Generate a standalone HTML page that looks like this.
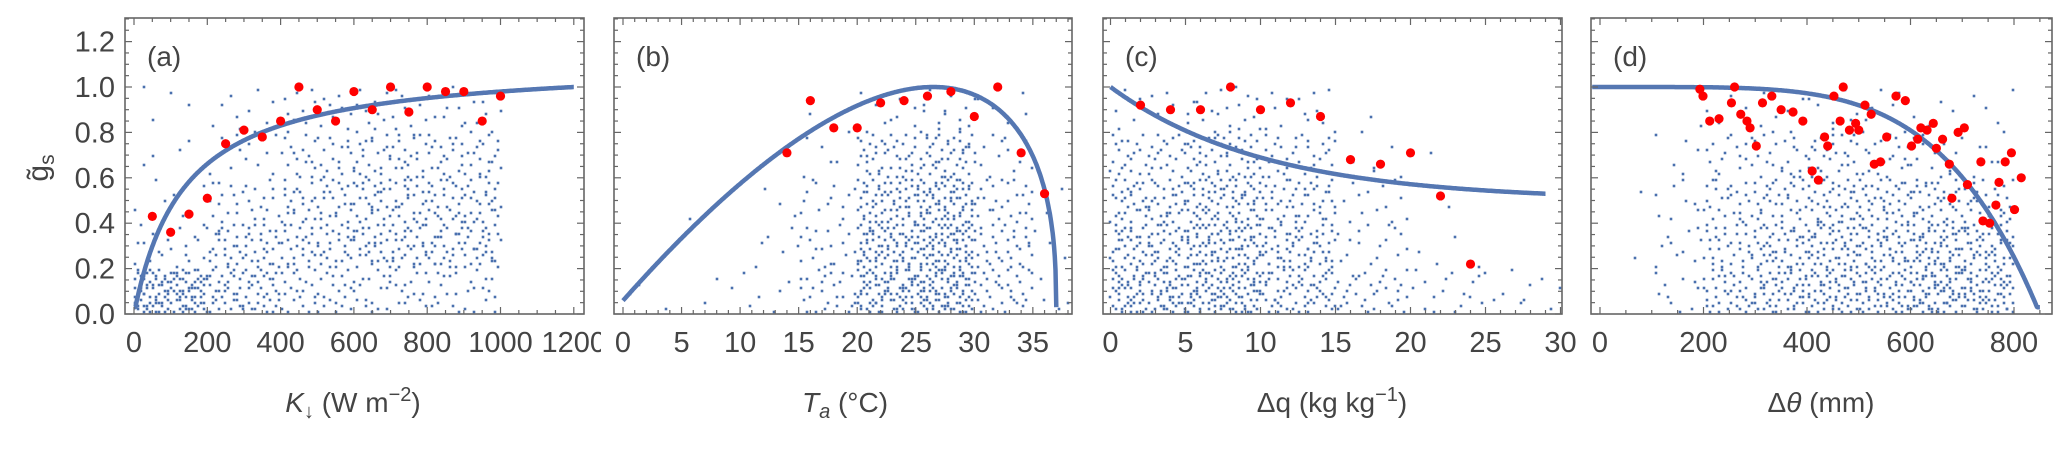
<!DOCTYPE html>
<html><head><meta charset="utf-8"><style>
html,body{margin:0;padding:0;background:#fff;}
svg{display:block;font-family:"Liberation Sans",sans-serif;}
</style></head><body>
<svg id="chart" width="2067" height="449" viewBox="0 0 2067 449" xmlns="http://www.w3.org/2000/svg">
<defs><clipPath id="clipA"><rect x="0" y="0" width="601" height="449"/></clipPath></defs>
<text transform="translate(48,168) rotate(-90)" text-anchor="middle" font-size="30" fill="#444">g&#771;<tspan font-size="21" dy="6">s</tspan></text>
</svg>
<script>
// ---------- data ----------
const yTicks = [0.0,0.2,0.4,0.6,0.8,1.0,1.2];
const yTickLabels = ["0.0","0.2","0.4","0.6","0.8","1.0","1.2"];

const aTicks = [0,200,400,600,800,1000,1200];
const aRedX = [50,100,150,200,250,300,350,400,450,500,550,600,650,700,750,800,850,900,950,1000];
const aRedY = [0.43,0.36,0.44,0.51,0.75,0.81,0.78,0.85,1.0,0.9,0.85,0.98,0.9,1.0,0.89,1.0,0.98,0.98,0.85,0.96];
const aDensity = [[120,65,40,32,26,0],[20,52,52,58,58,0],[6,26,45,52,52,0],[4,13,32,39,39,0],[4,10,16,20,16,0]];

const bTicks = [0,5,10,15,20,25,30,35];
const bRedX = [14,16,18,20,22,24,26,28,30,32,34,36];
const bRedY = [0.71,0.94,0.82,0.82,0.93,0.94,0.96,0.98,0.87,1.0,0.71,0.53];
const bDensity = [[3,3,6,26,80,92,32,6],[0,0,5,20,72,85,32,4],[0,1,3,13,58,72,26,3],[0,0,0,6,39,45,13,1],[0,0,0,1,10,16,5,0]];

const cTicks = [0,5,10,15,20,25,30];
const cRedX = [2,4,6,8,10,12,14,16,18,20,22,24];
const cRedY = [0.92,0.9,0.9,1.0,0.9,0.93,0.87,0.68,0.66,0.71,0.52,0.22];
const cDensity = [[92,105,65,32,16,10],[72,92,65,16,4,0],[58,72,52,13,1,0],[39,52,32,8,1,0],[10,20,13,1,0,0]];

const dTicks = [0,200,400,600,800];
const dRedX = [193,199,212,230,254,260,272,284,290,302,314,332,350,373,392,410,422,434,440,452,464,470,482,494,500,512,524,530,542,554,572,590,602,614,620,632,644,650,662,675,680,692,704,710,736,740,753,765,771,783,795,801,814];
const dRedY = [0.99,0.96,0.85,0.86,0.93,1.0,0.88,0.85,0.82,0.74,0.93,0.96,0.90,0.89,0.85,0.63,0.59,0.78,0.74,0.96,0.85,1.0,0.81,0.84,0.81,0.92,0.88,0.66,0.67,0.78,0.96,0.94,0.74,0.77,0.82,0.81,0.84,0.73,0.77,0.66,0.51,0.80,0.82,0.57,0.67,0.41,0.40,0.48,0.58,0.67,0.71,0.46,0.60];
const dDensity = [[0,10,40,52,58,58,72,65,0],[1,10,32,45,52,52,58,52,0],[1,8,26,32,39,39,39,26,0],[0,5,16,20,26,20,13,6,0],[0,1,4,6,8,6,4,4,0]];

// ---------- helpers ----------
const NS="http://www.w3.org/2000/svg";
const svg=document.getElementById('chart');
function mk(tag,attrs,parent){const e=document.createElementNS(NS,tag);for(const k in attrs)e.setAttribute(k,attrs[k]);(parent||svg).appendChild(e);return e;}
const Y0=314, YS=227, TOP=18;
function yS(v){return Y0-v*YS;}
function halton(i,b){let f=1,r=0;while(i>0){f/=b;r+=f*(i%b);i=Math.floor(i/b);}return r;}

function panel(cfg){
  const g=mk('g',{});
  
  
  const xS=v=>cfg.x0+(v-cfg.d0)*cfg.k;
  const cloud=mk('g',{fill:'#4a70ae'},g);
  
  
  let seed=1;
  cfg.density.forEach((row,yi)=>{row.forEach((n,xi)=>{
    for(let j=0;j<n;j++){
      seed++;
      const vx=cfg.binX*(xi+halton(seed,2));
      const vy=0.2*(yi+halton(seed,3));
      const px=Math.round(xS(vx)/3)*3, py=Math.round(yS(vy)/3)*3;
      if(px<cfg.left+2||px>cfg.right-2||py>Y0-1)continue;
      const c=mk('rect',{x:px-1.3,y:py-1.3,width:2.6,height:2.6},cloud);
      
      
    }
  });});
  let d='';
  for(let i=0;i<=600;i++){const v=cfg.c0+(cfg.c1-cfg.c0)*i/600;const f=cfg.f(v);if(!isFinite(f))continue;d+=(d?'L':'M')+xS(v).toFixed(1)+','+yS(Math.max(0.03,f)).toFixed(1);}
  const p=mk('path',{d:d,fill:'none',stroke:'#5577b2','stroke-width':4.5},g);
  
  
  cfg.rx.forEach((v,i)=>{const c=mk('circle',{cx:xS(v),cy:yS(cfg.ry[i]),r:4.6,fill:'#ff0000'},g);
    
    });
  const fr=mk('rect',{x:cfg.left,y:TOP,width:cfg.right-cfg.left,height:Y0-TOP,fill:'none',stroke:'#666','stroke-width':1.6},g);
  
  
  const tk=mk('g',{stroke:'#666','stroke-width':1.2},g);
  
  
  for(let v=0;v<=1.3001;v+=0.05){const y=yS(v);const maj=Math.abs(v/0.2-Math.round(v/0.2))<1e-6;const L=maj?7:4;
    mk('line',{x1:cfg.left,x2:cfg.left+L,y1:y,y2:y},tk);mk('line',{x1:cfg.right,x2:cfg.right-L,y1:y,y2:y},tk);}
  for(let v=cfg.d0;xS(v)<=cfg.right;v+=cfg.minor){const x=xS(v);if(x<cfg.left)continue;const maj=Math.abs(v/cfg.major-Math.round(v/cfg.major))<1e-6;const L=maj?7:4;
    mk('line',{x1:x,x2:x,y1:Y0,y2:Y0-L},tk);mk('line',{x1:x,x2:x,y1:TOP,y2:TOP+L},tk);}
  const lg=mk('g',{'font-size':29,fill:'#444','text-anchor':'middle'},g);
  if(cfg.id==='a')lg.setAttribute('clip-path','url(#clipA)');
  cfg.ticks.forEach(v=>{const t=mk('text',{x:xS(v),y:352},lg);t.textContent=String(v);
    
    });
  const tg=mk('text',{x:cfg.left+22,y:66,'font-size':28,fill:'#444'},g);tg.textContent='('+cfg.id+')';
  
  
  const tt=mk('text',{x:cfg.titleX,y:412,'font-size':28,fill:'#444','text-anchor':'middle'},g);
  tt.innerHTML=cfg.title;
  
  
}

const yl=mk('g',{'font-size':29,fill:'#444','text-anchor':'end'});


yTicks.forEach((v,i)=>{const t=mk('text',{x:115,y:yS(v)+10},yl);t.textContent=yTickLabels[i];
  
  });

const Topt=26.5,TL=-1,TH=37,bexp=(TH-Topt)/(Topt-TL);
panel({id:'a',left:125,right:584,x0:134,d0:0,k:0.3665,binX:200,density:aDensity,rx:aRedX,ry:aRedY,ticks:aTicks,major:200,minor:50,
  c0:0,c1:1200,f:v=>v*(1200+137)/(1200*(v+137)),titleX:353,
  title:'<tspan font-style="italic">K</tspan><tspan font-size="20" dy="6">↓</tspan><tspan dy="-6"> (W m</tspan><tspan font-size="20" dy="-11">−2</tspan><tspan dy="11">)</tspan>'});
panel({id:'b',left:614,right:1072,x0:623,d0:0,k:11.71,binX:5,density:bDensity,rx:bRedX,ry:bRedY,ticks:bTicks,major:5,minor:1,
  c0:0,c1:37,f:v=>((v-TL)/(Topt-TL))*Math.pow(Math.max(0,TH-v)/(TH-Topt),bexp),titleX:845,
  title:'<tspan font-style="italic">T</tspan><tspan font-style="italic" font-size="20" dy="6">a</tspan><tspan dy="-6"> (°C)</tspan>'});
panel({id:'c',left:1103,right:1562,x0:1110.5,d0:0,k:15.0,binX:5,density:cDensity,rx:cRedX,ry:cRedY,ticks:cTicks,major:5,minor:1,
  c0:0,c1:29,f:v=>0.5+0.5*Math.exp(-v/10.3),titleX:1332,
  title:'Δq (kg kg<tspan font-size="20" dy="-11">−1</tspan><tspan dy="11">)</tspan>'});
panel({id:'d',left:1591,right:2052,x0:1600,d0:0,k:0.5175,binX:100,density:dDensity,rx:dRedX,ry:dRedY,ticks:dTicks,major:200,minor:50,
  c0:-15,c1:850,f:v=>1-Math.pow(Math.max(0,v)/850,4.75),titleX:1821,
  title:'Δ<tspan font-style="italic">θ</tspan> (mm)'});
</script>
</body></html>
